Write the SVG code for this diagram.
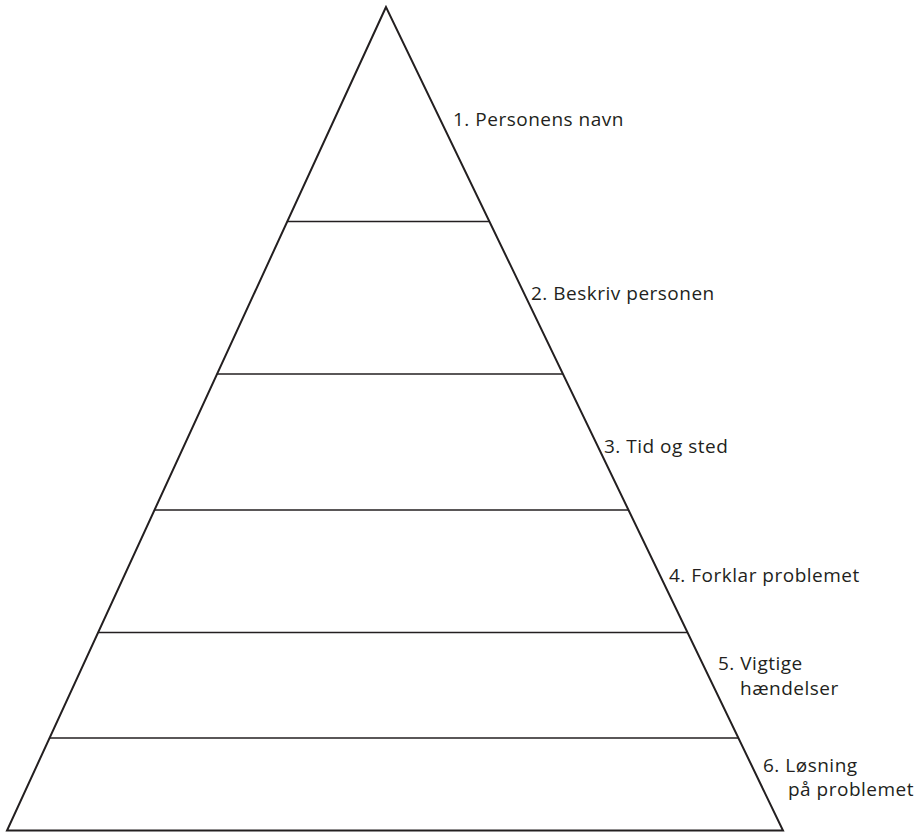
<svg xmlns="http://www.w3.org/2000/svg" width="924" height="832" viewBox="0 0 924 832">
<style>
.edge{fill:none;stroke:#231f20;stroke-width:2;stroke-linejoin:miter}
.div{stroke:#231f20;stroke-width:1.5}
.lbl{font-family:"Open Sans","Noto Sans",sans-serif;font-size:19px;letter-spacing:0.5px;fill:#231f20}
</style>
<rect width="924" height="832" fill="#fff"/>
<g id="pyramid">
<polygon class="edge" points="386,7 7,830.5 783,830.5"/>
</g>
<g id="connectors">
<line class="div" x1="287.3" y1="221.5" x2="489.4" y2="221.5"/>
<line class="div" x1="217.1" y1="374" x2="562.9" y2="374"/>
<line class="div" x1="154.5" y1="510" x2="628.5" y2="510"/>
<line class="div" x1="98.1" y1="632.5" x2="687.6" y2="632.5"/>
<line class="div" x1="49.6" y1="738" x2="738.4" y2="738"/>
</g>
<g id="level1"><text class="lbl" x="453" y="126">1. Personens navn</text></g>
<g id="level2"><text class="lbl" x="531" y="300">2. Beskriv personen</text></g>
<g id="level3"><text class="lbl" x="604" y="453">3. Tid og sted</text></g>
<g id="level4"><text class="lbl" x="669" y="582">4. Forklar problemet</text></g>
<g id="level5"><text class="lbl" x="718" y="670">5. Vigtige</text><text class="lbl" x="740" y="695">hændelser</text></g>
<g id="level6"><text class="lbl" x="763" y="772">6. Løsning</text><text class="lbl" x="788" y="796">på problemet</text></g>
</svg>
